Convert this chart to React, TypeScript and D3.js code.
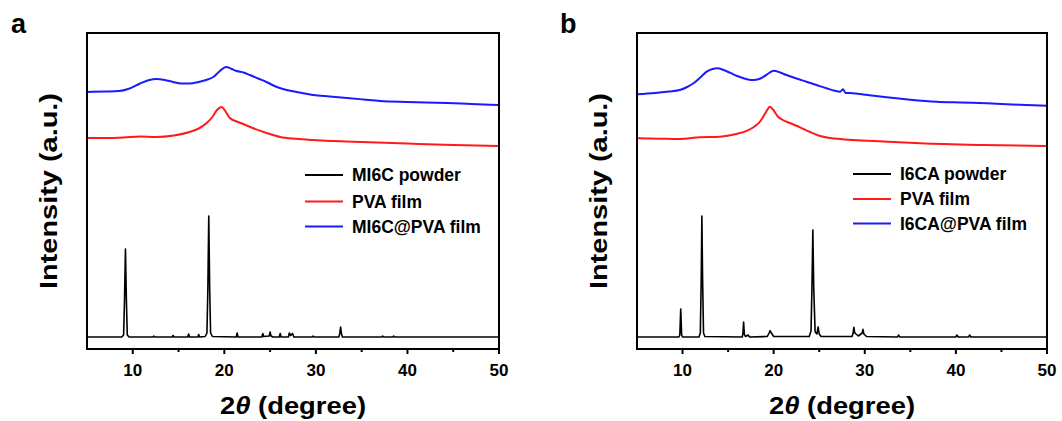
import React from "react";
import * as d3 from "d3";

// ---------- data (2θ in degrees, intensity in arbitrary units) ----------
const majorTicks = [10, 20, 30, 40, 50];
const minorTicks = [15, 25, 35, 45];

const legendA = ["MI6C powder", "PVA film", "MI6C@PVA film"];
const legendB = ["I6CA powder", "PVA film", "I6CA@PVA film"];

const blueA: [number, number][] = [
  [5, 257], [7, 257.5], [8.5, 258], [9.5, 260], [10.8, 265.5], [11.8, 269], [12.6, 270],
  [13.5, 269], [14.4, 267], [15.3, 265.5], [16.2, 265.5], [17.2, 267], [18.0, 269],
  [18.8, 272], [19.4, 277], [20.2, 282], [20.8, 280], [21.35, 278], [22.1, 276.5],
  [22.8, 274], [23.7, 270.5], [24.6, 267], [25.6, 262.5], [26.8, 259], [28.2, 256.5],
  [29.7, 254], [31.5, 252.5], [33.4, 251], [35.2, 249.5], [37.0, 248], [40, 247],
  [44.3, 246], [47, 245], [50, 244],
];
const redA: [number, number][] = [
  [5, 211], [7, 211], [9, 211.5], [10.8, 212.5], [12.5, 212], [14.5, 213.5], [16.2, 217],
  [17.2, 220.5], [18.07, 226], [18.7, 232], [19.2, 239], [19.7, 242], [20.1, 238],
  [20.6, 231], [21.35, 227.5], [22.2, 224.5], [23.1, 221], [24.6, 216], [26.1, 212],
  [27.8, 210.2], [29.7, 209], [32, 208], [35, 207], [40, 205.5], [45, 204], [50, 203],
];
const blackA: [number, number][] = [
  [5, 12], [8.8, 12], [9.0, 14], [9.1, 50], [9.2, 100], [9.3, 50], [9.4, 14], [9.6, 12],
  [12.2, 12], [12.3, 13], [12.4, 12],
  [14.3, 12], [14.4, 13.5], [14.5, 12],
  [16.0, 12], [16.1, 15], [16.2, 12],
  [17.1, 12], [17.2, 14.5], [17.3, 12],
  [17.9, 12.5], [18.1, 16], [18.2, 60], [18.3, 133], [18.4, 60], [18.5, 16], [18.7, 12.5],
  [21.3, 12], [21.4, 16], [21.5, 12],
  [24.1, 12], [24.2, 15.5], [24.3, 12.5], [24.9, 13], [25.0, 17], [25.1, 13], [25.3, 12],
  [26.0, 12], [26.1, 15.5], [26.2, 12],
  [27.0, 12], [27.1, 16], [27.25, 13.5], [27.45, 15.5], [27.6, 12],
  [29.6, 12], [29.7, 13], [29.8, 12],
  [32.5, 12], [32.6, 15], [32.7, 22], [32.8, 15], [32.9, 12],
  [37.2, 12], [37.3, 13], [37.4, 12], [38.4, 12], [38.5, 13], [38.6, 12], [50, 12],
];

const blueB: [number, number][] = [
  [5, 254.7], [7, 256], [8.5, 257.5], [9.7, 259], [10.5, 262], [11.2, 265.7], [12.0, 272],
  [12.65, 277.3], [13.3, 280], [13.85, 280.7], [14.5, 279], [15.2, 276.3], [16.0, 273],
  [16.7, 270.7], [17.3, 269.3], [17.8, 269], [18.4, 270], [18.9, 272.3], [19.5, 276],
  [20.0, 278.3], [20.7, 276.5], [21.4, 274], [22.5, 270.5], [23.6, 267.3], [24.7, 264],
  [25.8, 260.7], [26.6, 258.5], [27.3, 257.3], [27.6, 259.7], [27.9, 256], [28.7, 255.8],
  [29.5, 255], [31, 253.2], [32.4, 251.7], [35, 249.3], [37.9, 247.3], [40.5, 246.5],
  [43.4, 245.7], [47, 244.3], [50, 243.3],
];
const redB: [number, number][] = [
  [5, 210.7], [7.5, 210.3], [9.7, 210], [11.9, 211.7], [14.1, 212.3], [15.9, 215],
  [17.1, 218.3], [17.9, 222.5], [18.5, 227.3], [19.1, 236], [19.6, 242.3], [20.0, 238.5],
  [20.5, 232], [21.0, 229], [21.9, 225.5], [22.9, 221.7], [24.0, 217], [25.1, 213],
  [26.7, 210.5], [28.7, 209], [32, 207.5], [36.1, 205.7], [43, 204], [50, 203],
];
const blackB: [number, number][] = [
  [5, 12], [9.6, 12], [9.7, 14], [9.8, 40], [9.9, 14], [10.0, 12],
  [11.8, 12], [11.95, 16], [12.05, 70], [12.12, 133], [12.2, 70], [12.3, 16], [12.45, 12.5],
  [16.55, 12], [16.62, 15], [16.7, 27], [16.78, 15], [16.9, 12.5], [17.2, 14], [17.35, 12],
  [19.3, 12.5], [19.5, 16], [19.6, 18.3], [19.75, 16], [20.0, 12.5],
  [23.9, 12.5], [24.1, 18], [24.2, 60], [24.3, 119], [24.4, 60], [24.55, 17], [24.75, 15],
  [24.88, 22], [25.0, 15], [25.2, 12.5],
  [28.6, 12.5], [28.72, 16], [28.8, 21.7], [28.9, 16], [29.3, 13], [29.72, 16], [29.8, 19.7],
  [29.9, 15], [30.2, 12.5],
  [33.6, 12], [33.7, 14], [33.85, 12],
  [40.0, 12], [40.1, 14], [40.25, 12], [41.4, 12], [41.5, 14], [41.65, 12], [50, 12],
];

// ---------- component ----------
const FONT = "'Liberation Sans', Arial, Helvetica, sans-serif";

type PanelProps = {
  left: number;
  right: number;
  label: string;
  labelX: number;
  legend: string[];
  legendX: number;
  legendY: number[];
  black: [number, number][];
  red: [number, number][];
  blue: [number, number][];
};

const TOP = 33;
const BOTTOM = 349;

function Panel(p: PanelProps) {
  const x = d3.scaleLinear().domain([5, 50]).range([p.left, p.right]);
  const y = d3.scaleLinear().domain([0, 316]).range([BOTTOM, TOP]);
  const smooth = d3
    .line<[number, number]>()
    .x((d) => x(d[0]))
    .y((d) => y(d[1]))
    .curve(d3.curveMonotoneX);
  const sharp = d3
    .line<[number, number]>()
    .x((d) => x(d[0]))
    .y((d) => y(d[1]));
  const colors = ["#000000", "#ff1a1a", "#1a1aff"];
  const cx = (p.left + p.right) / 2;
  const cy = (TOP + BOTTOM) / 2;
  return (
    <g>
      <text x={p.labelX} y={33} fontFamily={FONT} fontWeight="bold" fontSize={27} fill="#000">
        {p.label}
      </text>
      <path d={smooth(p.blue) || ""} fill="none" stroke={colors[2]} strokeWidth={2} />
      <path d={smooth(p.red) || ""} fill="none" stroke={colors[1]} strokeWidth={2} />
      <path d={sharp(p.black) || ""} fill="none" stroke={colors[0]} strokeWidth={1.6} strokeLinejoin="round" />
      <rect
        x={p.left}
        y={TOP}
        width={p.right - p.left}
        height={BOTTOM - TOP}
        fill="none"
        stroke="#000"
        strokeWidth={2}
      />
      {majorTicks.map((t) => (
        <g key={"M" + t}>
          <line x1={x(t)} x2={x(t)} y1={BOTTOM} y2={BOTTOM + 5} stroke="#000" strokeWidth={2} />
          <text
            x={x(t)}
            y={BOTTOM + 27}
            textAnchor="middle"
            fontFamily={FONT}
            fontWeight="bold"
            fontSize={17}
            fill="#000"
          >
            {t}
          </text>
        </g>
      ))}
      {minorTicks.map((t) => (
        <line key={"m" + t} x1={x(t)} x2={x(t)} y1={BOTTOM} y2={BOTTOM + 3} stroke="#000" strokeWidth={2} />
      ))}
      <text
        x={cx}
        y={414}
        textAnchor="middle"
        fontFamily={FONT}
        fontWeight="bold"
        fontSize={24}
        textLength={146}
        lengthAdjust="spacingAndGlyphs"
        fill="#000"
      >
        2<tspan fontStyle="italic">θ</tspan> (degree)
      </text>
      <text
        transform={`translate(${p.left - 30},${cy}) rotate(-90)`}
        textAnchor="middle"
        fontFamily={FONT}
        fontWeight="bold"
        fontSize={24}
        textLength={196}
        lengthAdjust="spacingAndGlyphs"
        fill="#000"
      >
        Intensity (a.u.)
      </text>
      {p.legend.map((name, i) => (
        <g key={name}>
          <line
            x1={p.legendX}
            x2={p.legendX + 38}
            y1={p.legendY[i]}
            y2={p.legendY[i]}
            stroke={colors[i]}
            strokeWidth={2}
          />
          <text
            x={p.legendX + 47}
            y={p.legendY[i]}
            dy="0.36em"
            fontFamily={FONT}
            fontWeight="bold"
            fontSize={17.5}
            fill="#000"
          >
            {name}
          </text>
        </g>
      ))}
    </g>
  );
}

export default function App() {
  return (
    <svg
      width={1062}
      height={421}
      style={{ position: "absolute", left: 0, top: 0, background: "#fff" }}
    >
      <Panel
        left={87}
        right={499}
        label="a"
        labelX={11}
        legend={legendA}
        legendX={305}
        legendY={[175, 201.5, 226.5]}
        black={blackA}
        red={redA}
        blue={blueA}
      />
      <Panel
        left={637}
        right={1047}
        label="b"
        labelX={560}
        legend={legendB}
        legendX={853}
        legendY={[174, 199, 223.5]}
        black={blackB}
        red={redB}
        blue={blueB}
      />
    </svg>
  );
}
